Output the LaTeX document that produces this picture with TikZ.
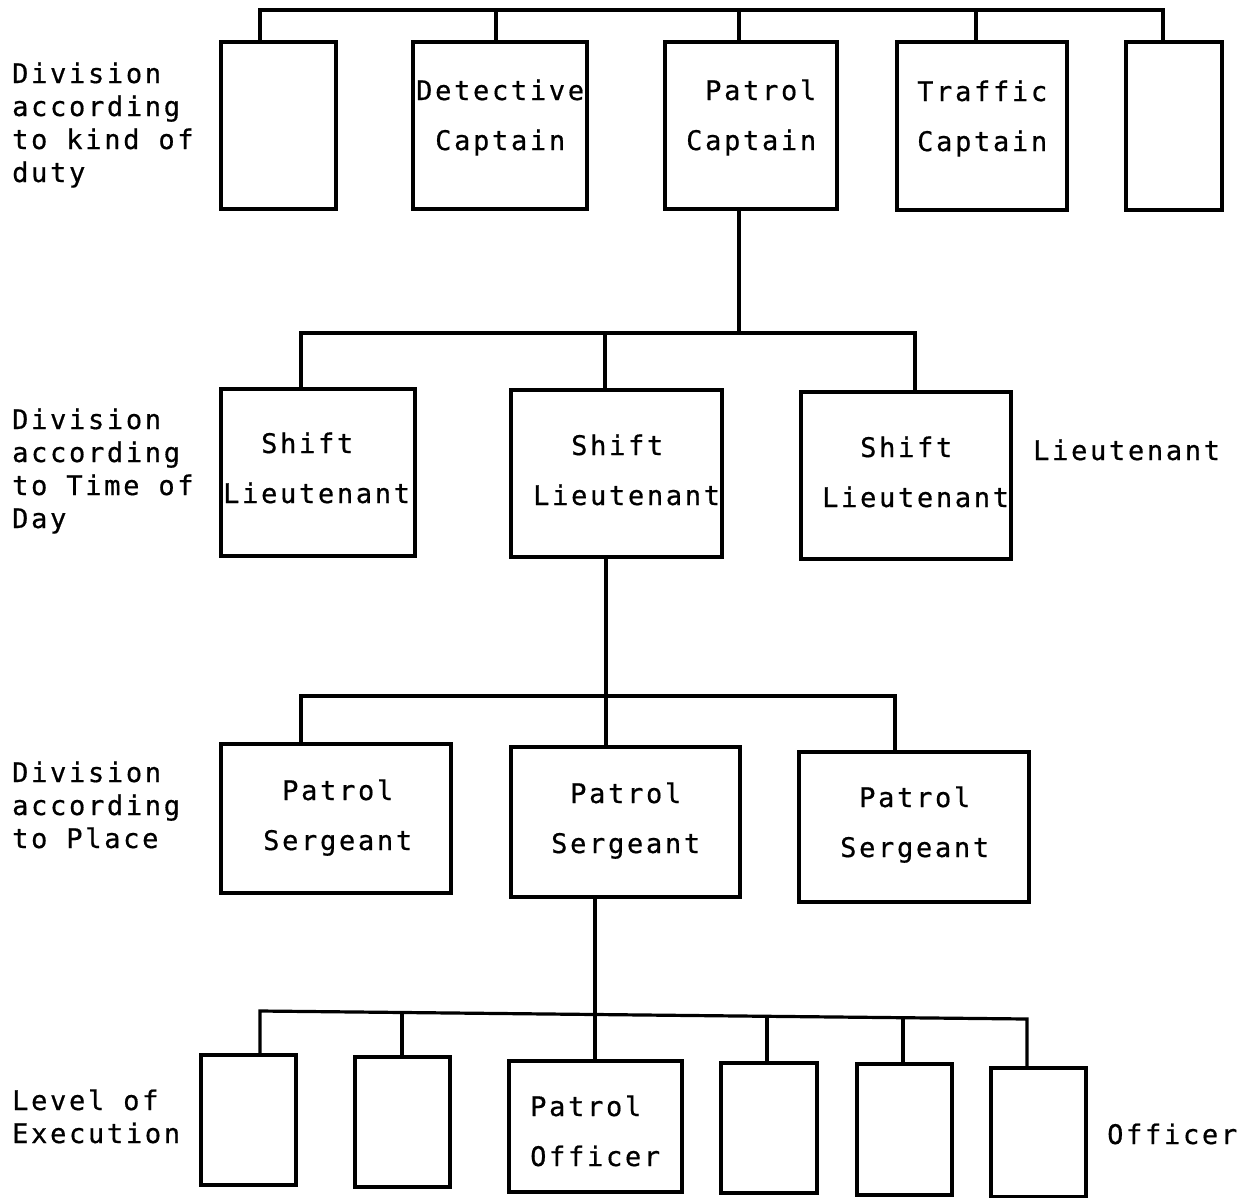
\documentclass[tikz,border=0pt]{standalone}
\usepackage{fontspec}
\newfontfamily\typewriter{DejaVu Sans Mono}[LetterSpace=10,FakeBold=0.6]
\begin{document}
\begin{tikzpicture}[x=1pt,y=-1pt,
  box/.style={draw, line width=3.2pt, inner sep=0pt},
  wire/.style={line width=3.2pt},
  boxtext/.style={anchor=base west, inner sep=0pt, align=left,
    font=\typewriter\fontsize{27}{50}\selectfont},
  sidetext/.style={anchor=base west, inner sep=0pt, align=left,
    font=\typewriter\fontsize{27}{33}\selectfont}]
\useasboundingbox (0,0) rectangle (1255,1197);

% ---- level 1: kind of duty
\node[box, minimum width=115, minimum height=167] (k1) at (278.5,125.5) {};
\node[box, minimum width=174, minimum height=167] (k2) at (500,125.5) {};
\node[box, minimum width=172, minimum height=167] (k3) at (751,125.5) {};
\node[box, minimum width=170, minimum height=168] (k4) at (982,126) {};
\node[box, minimum width=96,  minimum height=168] (k5) at (1174,126) {};
\node[boxtext] (k2t) at (416,150) {Detective\\\hspace*{19pt}Captain};
\node[boxtext] (k3t) at (686,150) {\hspace*{19pt}Patrol\\Captain};
\node[boxtext] (k4t) at (917,151) {Traffic\\Captain};

% ---- level 2: time of day
\node[box, minimum width=194, minimum height=167] (s1) at (318,472.5) {};
\node[box, minimum width=211, minimum height=167] (s2) at (616.5,473.5) {};
\node[box, minimum width=210, minimum height=167] (s3) at (906,475.5) {};
\node[boxtext] (s1t) at (223,503) {\hspace*{38pt}Shift\\Lieutenant};
\node[boxtext] (s2t) at (533,505) {\hspace*{38pt}Shift\\Lieutenant};
\node[boxtext] (s3t) at (822,507) {\hspace*{38pt}Shift\\Lieutenant};
\node[sidetext] (lt) at (1033,460) {Lieutenant};

% ---- level 3: place
\node[box, minimum width=230, minimum height=149] (p1) at (336,818.5) {};
\node[box, minimum width=229, minimum height=150] (p2) at (625.5,822) {};
\node[box, minimum width=230, minimum height=150] (p3) at (914,827) {};
\node[boxtext] (p1t) at (263,850) {\hspace*{19pt}Patrol\\Sergeant};
\node[boxtext] (p2t) at (551,853) {\hspace*{19pt}Patrol\\Sergeant};
\node[boxtext] (p3t) at (840,857) {\hspace*{19pt}Patrol\\Sergeant};

% ---- level 4: execution
\node[box, minimum width=95,  minimum height=130] (o1) at (248.5,1120) {};
\node[box, minimum width=95,  minimum height=130] (o2) at (402.5,1122) {};
\node[box, minimum width=173, minimum height=131] (o3) at (595.5,1126.5) {};
\node[box, minimum width=96,  minimum height=130] (o4) at (769,1128) {};
\node[box, minimum width=95,  minimum height=131] (o5) at (904.5,1129.5) {};
\node[box, minimum width=95,  minimum height=129] (o6) at (1038.5,1132.5) {};
\node[boxtext] (o3t) at (530,1166) {Patrol\\Officer};
\node[sidetext] (ot) at (1107,1144) {Officer};

% ---- row captions
\node[sidetext] (r1) at (12,182)  {Division\\according\\to kind of\\duty};
\node[sidetext] (r2) at (12,528)  {Division\\according\\to Time of\\Day};
\node[sidetext] (r3) at (12,848)  {Division\\according\\to Place};
\node[sidetext] (r4) at (12,1143) {Level of\\Execution};

% ---- connectors, level 1
\coordinate (c1) at (260,10);
\coordinate (c2) at (496,10);
\coordinate (c3) at (739,10);
\coordinate (c4) at (976,10);
\coordinate (c5) at (1163,10);
\draw[wire] (k1.north -| c1) -- (c1) -- (c5) -- (k5.north -| c5);
\draw[wire] (c2) -- (k2.north -| c2);
\draw[wire] (c3) -- (k3.north -| c3);
\draw[wire] (c4) -- (k4.north -| c4);

% ---- connectors, level 1 to 2
\coordinate (j1) at (739,333);
\coordinate (b2l) at (301,333);
\coordinate (b2m) at (605,333);
\coordinate (b2r) at (915,333);
\draw[wire] (k3.south -| j1) -- (j1);
\draw[wire] (s1.north -| b2l) -- (b2l) -- (b2r) -- (s3.north -| b2r);
\draw[wire] (b2m) -- (s2.north -| b2m);

% ---- connectors, level 2 to 3
\coordinate (j2) at (606,696);
\coordinate (b3l) at (301,696);
\coordinate (b3r) at (895,696);
\draw[wire] (s2.south -| j2) -- (j2) -- (p2.north -| j2);
\draw[wire] (p1.north -| b3l) -- (b3l) -- (b3r) -- (p3.north -| b3r);

% ---- connectors, level 3 to 4
\coordinate (d1) at (260,1011);
\coordinate (d2) at (402,1012.5);
\coordinate (d3) at (595,1014.5);
\coordinate (d4) at (767,1016.3);
\coordinate (d5) at (903,1017.7);
\coordinate (d6) at (1027,1019);
\draw[wire] (p2.south -| d3) -- (d3) -- (o3.north -| d3);
\draw[wire] (o1.north -| d1) -- (d1) -- (d6) -- (o6.north -| d6);
\draw[wire] (d2) -- (o2.north -| d2);
\draw[wire] (d4) -- (o4.north -| d4);
\draw[wire] (d5) -- (o5.north -| d5);
\end{tikzpicture}
\end{document}
